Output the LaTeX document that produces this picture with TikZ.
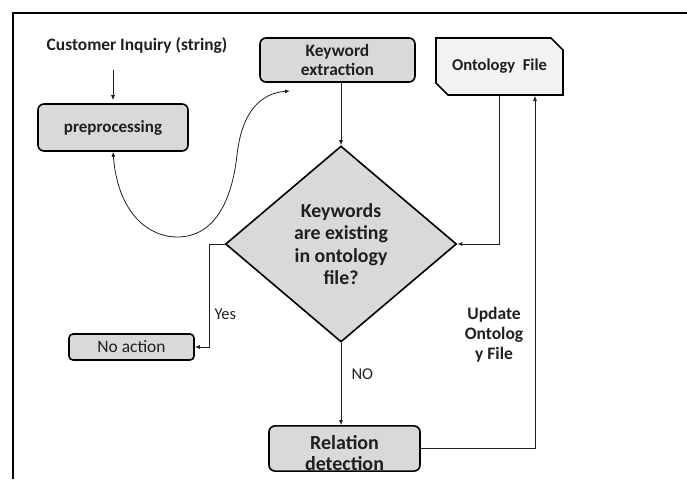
\documentclass[tikz,border=0pt]{standalone}
\usepackage{fontspec}
\setmainfont{Carlito}
\usetikzlibrary{arrows.meta,shapes.geometric,shapes.misc}
\definecolor{boxgray}{HTML}{D9D9D9}
\definecolor{filegray}{HTML}{F2F2F2}
\definecolor{inkgray}{HTML}{1F1F1F}
\tikzset{
  arr/.style={-{Latex[length=5pt,width=4pt]}, draw=inkgray, line width=0.8pt},
  proc/.style={rectangle, rounded corners=6pt, draw, line width=1.6pt, fill=boxgray,
    align=center, text=inkgray, inner sep=0pt, font=\bfseries\fontsize{17.4}{19}\selectfont},
  lbl/.style={text=inkgray, font=\fontsize{16.5}{18}\selectfont}
}

\begin{document}
\begin{tikzpicture}[x=1pt,y=-1pt]
\useasboundingbox (0,0) rectangle (687,479);
% frame
\draw[line width=2.8pt] (13,479) -- (13,13) -- (687,13);

\node[text=inkgray, font=\bfseries\fontsize{17.4}{19}\selectfont] (cust) at (137,46) {Customer Inquiry (string)};
\node[proc, minimum width=150pt, minimum height=47pt, font=\bfseries\fontsize{17}{19}\selectfont] (pre) at (113,127.5) {preprocessing};
\node[proc, minimum width=155pt, minimum height=44pt] (kw) at (337.5,60) {Keyword\\extraction};
\node[chamfered rectangle, chamfered rectangle corners={north east,south west},
  chamfered rectangle xsep=6pt, chamfered rectangle ysep=6pt, draw, line width=1.6pt,
  fill=filegray, minimum width=127pt, minimum height=57pt, inner sep=0pt, text=inkgray,
  font=\bfseries\fontsize{16.6}{19}\selectfont] (onto) at (499.5,66.5) {Ontology~~File};
\node[diamond, draw, line width=1.6pt, fill=boxgray, minimum width=231pt, minimum height=196pt,
  inner sep=0pt, align=center, text=inkgray, font=\bfseries\fontsize{19.8}{22.5}\selectfont]
  (dia) at (341,244) {Keywords\\are existing\\in ontology\\file?};
\node[proc, minimum width=125pt, minimum height=26pt, rounded corners=4pt, font=\fontsize{17.4}{18}\selectfont] (noact) at (131.5,347) {No action};
\node[proc, minimum width=151pt, minimum height=43pt, font=\bfseries\fontsize{20}{21}\selectfont] (rel) at (344.5,448.5) {\rule{0pt}{24pt}Relation\\detection};

\coordinate (kwin) at (290,91);

\draw[arr, shorten >=3pt] ([yshift=-13pt]cust.south -| pre.north) -- (pre.north);
\draw[{Latex[length=5pt,width=4pt]}-{Latex[length=5pt,width=4pt]}, draw=inkgray, line width=0.8pt]
  (pre.south) .. controls (118,215) and (150,237) .. (177,237)
  .. controls (215,237) and (232,200) .. (237,155)
  .. controls (242,110) and (262,93) .. (kwin);
\draw[arr] (kw.south -| dia.north) -- (dia.north);
\draw[arr] (onto.south) |- (dia.east);
\draw[arr] (dia.west) -- ++(-15,0) |- (noact.east);
\draw[arr] (dia.south) -- (dia.south |- rel.north);
\draw[arr] (rel.east) -| ([xshift=35.5pt]onto.south);

\node[lbl, anchor=west] (yes) at (211,314) {Yes};
\node[lbl, anchor=west] (no) at (348,374) {NO};
\node[align=center, text=inkgray, font=\bfseries\fontsize{17.5}{20}\selectfont] (upd) at (494,335) {Update\\Ontolog\\y File};
\end{tikzpicture}
\end{document}
